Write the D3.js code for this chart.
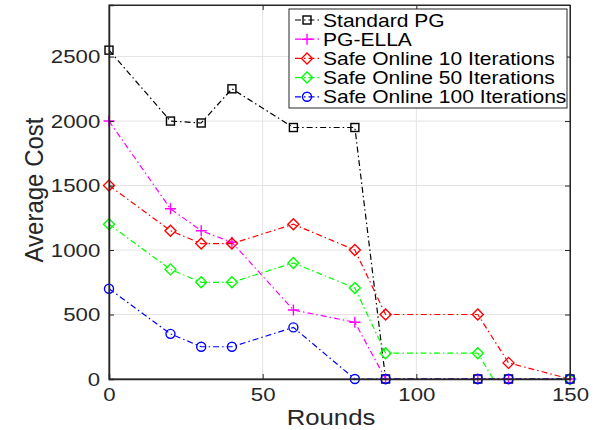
<!DOCTYPE html>
<html>
<head>
	<meta charset="utf-8">
	<script src="https://cdn.jsdelivr.net/npm/d3@7"></script>
	<style>
		body { margin: 0; background: #fff; }
		text { font-family: "Liberation Sans", Arial, sans-serif; }
	</style>
</head>
<body>
<script>
	// rounds on the x axis
	var rounds = [0, 20, 30, 40, 60, 80, 90, 120, 130, 150]

	// average cost for each method
	var standardPG = [2550, 2000, 1985, 2250, 1950, 1950, 0, 0, 0, 0]
	var pgElla     = [2000, 1320, 1150, 1060, 535, 440, 0, 0, 0, 0]
	var safe10     = [1500, 1150, 1050, 1050, 1200, 1000, 500, 500, 125, 0]
	var safe50     = [1200, 850, 750, 750, 900, 705, 200, 200, -200, 0]
	var safe100    = [700, 350, 250, 250, 400, 0, 0, 0, 0, 0]

	var xTicks = [0, 50, 100, 150]
	var yTicks = [0, 500, 1000, 1500, 2000, 2500]

	var series = [
		{name: "Standard PG", values: standardPG, color: "#000000", marker: "square"},
		{name: "PG-ELLA", values: pgElla, color: "#ff00ff", marker: "plus"},
		{name: "Safe Online 10 Iterations", values: safe10, color: "#ff0000", marker: "diamond"},
		{name: "Safe Online 50 Iterations", values: safe50, color: "#00ff00", marker: "diamond"},
		{name: "Safe Online 100 Iterations", values: safe100, color: "#0000ff", marker: "circle"}
	]

	var W = 597, H = 430
	var pLeft = 109, pRight = 570, pTop = 5, pBottom = 379
	// the original figure's text looks a bit stretched sideways
	var stretch = 1.17

	var svg = d3.select("body").append("svg")
		.attr("width", W)
		.attr("height", H)

	var x = d3.scaleLinear().domain([0, 150]).range([pLeft, pRight])
	var y = d3.scaleLinear().domain([0, 2900]).range([pBottom, pTop])

	// grid
	var grid = svg.append("g")
	grid.selectAll(".gx").data(xTicks).enter().append("line")
		.attr("x1", d => x(d)).attr("x2", d => x(d))
		.attr("y1", pTop).attr("y2", pBottom)
		.attr("stroke", "#e3e3e3").attr("stroke-width", 1)
	grid.selectAll(".gy").data(yTicks).enter().append("line")
		.attr("x1", pLeft).attr("x2", pRight)
		.attr("y1", d => y(d)).attr("y2", d => y(d))
		.attr("stroke", "#e3e3e3").attr("stroke-width", 1)

	// clip so the green line that dips below zero is cut at the axis
	svg.append("clipPath").attr("id", "plotclip")
		.append("rect")
		.attr("x", pLeft - 8).attr("y", pTop)
		.attr("width", pRight - pLeft + 16).attr("height", pBottom - pTop + 1)

	var line = d3.line()
		.x((d, i) => x(rounds[i]))
		.y(d => y(d))

	function drawMarker(g, type, color) {
		if (type == "square") {
			g.append("rect").attr("x", -4).attr("y", -4).attr("width", 8).attr("height", 8)
				.attr("fill", "none").attr("stroke", color).attr("stroke-width", 1.4)
		} else if (type == "diamond") {
			g.append("path").attr("d", "M0,-5.5L5.5,0L0,5.5L-5.5,0Z")
				.attr("fill", "none").attr("stroke", color).attr("stroke-width", 1.4)
		} else if (type == "circle") {
			g.append("circle").attr("r", 4.5)
				.attr("fill", "none").attr("stroke", color).attr("stroke-width", 1.4)
		} else if (type == "plus") {
			g.append("path").attr("d", "M-5.5,0L5.5,0M0,-5.5L0,5.5")
				.attr("fill", "none").attr("stroke", color).attr("stroke-width", 1.4)
		}
	}

	// lines then markers, in plotting order
	series.forEach(function(s) {
		svg.append("path")
			.datum(s.values)
			.attr("d", line)
			.attr("fill", "none")
			.attr("stroke", s.color)
			.attr("stroke-width", 1.2)
			.attr("stroke-dasharray", "6,3,1.5,3")
			.attr("clip-path", "url(#plotclip)")

		s.values.forEach(function(v, i) {
			if (v < 0) return
			var g = svg.append("g").attr("transform", "translate(" + x(rounds[i]) + "," + y(v) + ")")
			drawMarker(g, s.marker, s.color)
		})
	})

	// axes box
	var axisColor = "#262626"
	svg.append("rect")
		.attr("x", pLeft).attr("y", pTop)
		.attr("width", pRight - pLeft).attr("height", pBottom - pTop)
		.attr("fill", "none").attr("stroke", axisColor).attr("stroke-width", 1)

	var xAxis = d3.axisBottom(x).tickValues(xTicks).tickSize(-5).tickPadding(9)
	var gx = svg.append("g").attr("transform", "translate(0," + pBottom + ")").call(xAxis)
	gx.select(".domain").attr("stroke", axisColor).attr("stroke-width", 1.5)
	gx.selectAll(".tick line").attr("stroke", axisColor)
	gx.selectAll("text").attr("font-size", 19).attr("fill", axisColor)
		.attr("font-family", "Liberation Sans, Arial, sans-serif")
		.attr("transform", "scale(" + stretch + ",1)")

	var xTop = d3.axisTop(x).tickValues(xTicks).tickSize(-5).tickFormat("")
	var gxt = svg.append("g").attr("transform", "translate(0," + pTop + ")").call(xTop)
	gxt.select(".domain").attr("stroke", axisColor)
	gxt.selectAll(".tick line").attr("stroke", axisColor)

	var yAxis = d3.axisLeft(y).tickValues(yTicks).tickSize(-5).tickPadding(7.5)
		.tickFormat(d3.format("d"))
	var gy = svg.append("g").attr("transform", "translate(" + pLeft + ",0)").call(yAxis)
	gy.select(".domain").attr("stroke", axisColor).attr("stroke-width", 1.5)
	gy.selectAll(".tick line").attr("stroke", axisColor)
	gy.selectAll("text").attr("font-size", 19).attr("fill", axisColor)
		.attr("font-family", "Liberation Sans, Arial, sans-serif")
		.attr("transform", "scale(" + stretch + ",1)")

	var yRight = d3.axisRight(y).tickValues(yTicks).tickSize(-5).tickFormat("")
	var gyr = svg.append("g").attr("transform", "translate(" + pRight + ",0)").call(yRight)
	gyr.select(".domain").attr("stroke", axisColor)
	gyr.selectAll(".tick line").attr("stroke", axisColor)

	// axis labels
	svg.append("text")
		.attr("transform", "translate(331,425) scale(" + stretch + ",1)")
		.attr("text-anchor", "middle")
		.attr("font-size", 22)
		.attr("fill", axisColor)
		.text("Rounds")

	svg.append("text")
		.attr("transform", "translate(43,190) rotate(-90) scale(1,1.1)")
		.attr("text-anchor", "middle")
		.attr("font-size", 24)
		.attr("fill", axisColor)
		.text("Average Cost")

	// legend
	var lx = 289, ly = 9, lw = 278, lh = 99, rowH = 19.2
	var legend = svg.append("g")
	legend.append("rect")
		.attr("x", lx).attr("y", ly).attr("width", lw).attr("height", lh)
		.attr("fill", "#fff").attr("stroke", axisColor).attr("stroke-width", 1)

	series.forEach(function(s, i) {
		var cy = ly + 11 + i * rowH
		legend.append("line")
			.attr("x1", lx + 6).attr("x2", lx + 31)
			.attr("y1", cy).attr("y2", cy)
			.attr("stroke", s.color).attr("stroke-width", 1.2)
			.attr("stroke-dasharray", "6,3,1.5,3")
		var g = legend.append("g").attr("transform", "translate(" + (lx + 18) + "," + cy + ")")
		drawMarker(g, s.marker, s.color)
		legend.append("text")
			.attr("transform", "translate(" + (lx + 34) + "," + (cy + 6.5) + ") scale(" + stretch + ",1)")
			.attr("font-size", 18)
			.attr("fill", "#000")
			.text(s.name)
	})
</script>
</body>
</html>
